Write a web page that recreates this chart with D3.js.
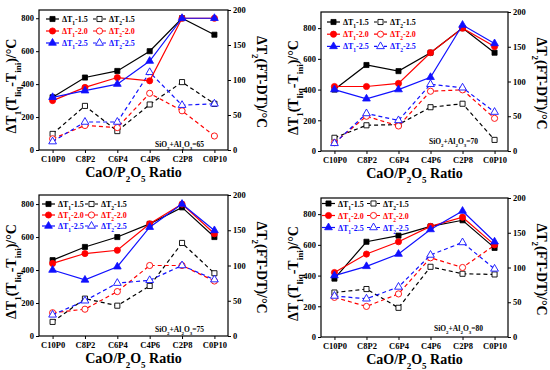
<!DOCTYPE html>
<html lang="en">
<head>
    <meta charset="UTF-8">
    <title>CaO/P2O5 ratio</title>
    <script src="https://d3js.org/d3.v7.min.js" charset="utf-8"></script>
    <style>
        body { margin: 0; background: #fff; }
        svg text { font-family: 'Liberation Serif', 'Times New Roman', serif; font-weight: bold; }
    </style>
</head>
<body>
    <div id="chart"></div>
    <script>
        // categories on x
        const ratios = ["C10P0", "C8P2", "C6P4", "C4P6", "C2P8", "C0P10"];
        const basicity = ["1.5", "2.0", "2.5"];
        const colors = ["#000000", "#ff0000", "#1010ff"];
        const panelLabels = ["65", "70", "75", "80"];

        // left axis values (dT1), rows = basicity 1.5, 2.0, 2.5
        const dT1_65 = [[320, 440, 480, 600, 800, 700], [300, 380, 440, 420, 800, 800], [320, 360, 400, 540, 800, 800]];
        const dT1_70 = [[400, 560, 520, 640, 800, 640], [420, 420, 440, 640, 800, 680], [400, 340, 400, 480, 820, 700]];
        const dT1_75 = [[460, 540, 600, 680, 780, 600], [440, 500, 520, 680, 800, 620], [400, 340, 420, 660, 800, 640]];
        const dT1_80 = [[380, 620, 660, 720, 760, 580], [420, 540, 620, 720, 780, 600], [400, 460, 540, 700, 820, 620]];

        // right axis values (dT2)
        const dT2_65 = [[23, 63, 27, 65, 97, 66], [16, 35, 32, 81, 56, 20], [12, 40, 40, 111, 64, 66]];
        const dT2_70 = [[19, 37, 38, 63, 68, 16], [12, 50, 36, 86, 88, 47], [11, 54, 44, 96, 91, 56]];
        const dT2_75 = [[20, 53, 43, 71, 132, 89], [33, 38, 63, 100, 100, 78], [30, 50, 75, 79, 100, 80]];
        const dT2_80 = [[64, 69, 42, 101, 91, 90], [57, 44, 62, 114, 100, 132], [59, 55, 72, 118, 136, 98]];

        const leftTicks = [0, 200, 400, 600, 800];
        const rightTicks = [0, 50, 100, 150, 200];

        const svg = d3.select("#chart").append("svg")
            .attr("width", 550)
            .attr("height", 370);

        // panel frames
        const panels = [
            {x0: 0,   y0: 0,   left: 39,  right: 228, top: 10,  bottom: 150, ymax: 850, t1: dT1_65, t2: dT2_65,
             leg: {x: 46, y: 19, dy: 12, col: 47}, ann: {x: 204, y: 147}},
            {x0: 275, y0: 0,   left: 46,  right: 233, top: 12,  bottom: 151, ymax: 905, t1: dT1_70, t2: dT2_70,
             leg: {x: 52, y: 22, dy: 12.2, col: 47}, ann: {x: 203, y: 144}},
            {x0: 0,   y0: 185, left: 39,  right: 228, top: 10,  bottom: 151, ymax: 855, t1: dT1_75, t2: dT2_75,
             leg: {x: 42, y: 19, dy: 11, col: 43}, ann: {x: 204, y: 147}},
            {x0: 275, y0: 185, left: 46,  right: 233, top: 13,  bottom: 152, ymax: 905, t1: dT1_80, t2: dT2_80,
             leg: {x: 47, y: 18.5, dy: 12, col: 45}, ann: {x: 208, y: 146}}
        ];

        // symbol for each basicity
        const symbols = [d3.symbolSquare, d3.symbolCircle, d3.symbolTriangle];
        const symSize = [26, 30, 26];

        function marker(g, i, cx, cy, filled) {
            g.append("path")
                .attr("d", d3.symbol().type(symbols[i]).size(symSize[i])())
                .attr("transform", "translate(" + cx + "," + cy + ")")
                .attr("fill", filled ? colors[i] : "#fff")
                .attr("stroke", colors[i])
                .attr("stroke-width", filled ? 0.8 : 0.9);
        }

        // text with subscripts: parts = [[text, isSub], ...]
        function richText(t, parts, subSize) {
            parts.forEach(p => {
                const ts = t.append("tspan").text(p[0]);
                if (p[1]) ts.attr("baseline-shift", "sub").attr("font-size", subSize);
            });
            return t;
        }

        panels.forEach((p, k) => {
            const g = svg.append("g").attr("transform", "translate(" + p.x0 + "," + p.y0 + ")");

            const x = d3.scalePoint().domain(ratios).range([p.left, p.right]).padding(0.42);
            const yL = d3.scaleLinear().domain([0, p.ymax]).range([p.bottom, p.top]);
            const yR = d3.scaleLinear().domain([0, 200]).range([p.bottom, p.top]);

            // axes
            g.append("g").attr("transform", "translate(" + p.left + ",0)")
                .call(d3.axisLeft(yL).tickValues(leftTicks).tickSize(3).tickPadding(2))
                .call(a => a.selectAll("text").attr("font-size", 8.5).attr("fill", "#000"));
            g.append("g").attr("transform", "translate(" + p.right + ",0)")
                .call(d3.axisRight(yR).tickValues(rightTicks).tickSize(3).tickPadding(2))
                .call(a => a.selectAll("text").attr("font-size", 8.5).attr("fill", "#000"));
            g.append("g").attr("transform", "translate(0," + p.bottom + ")")
                .call(d3.axisBottom(x).tickSize(3).tickPadding(3))
                .call(a => a.selectAll("text").attr("font-size", 8.5).attr("fill", "#000"));
            g.selectAll(".domain").remove();
            g.selectAll(".tick line").attr("stroke", "#000").attr("stroke-width", 1);

            g.append("rect")
                .attr("x", p.left).attr("y", p.top)
                .attr("width", p.right - p.left).attr("height", p.bottom - p.top)
                .attr("fill", "none").attr("stroke", "#000").attr("stroke-width", 1.2);

            // dT2 dashed series (right axis)
            p.t2.forEach((vals, i) => {
                const line = d3.line().x((d, j) => x(ratios[j])).y(d => yR(d));
                g.append("path").datum(vals)
                    .attr("d", line)
                    .attr("fill", "none").attr("stroke", colors[i])
                    .attr("stroke-width", 1.2).attr("stroke-dasharray", "4,3");
                vals.forEach((v, j) => marker(g, i, x(ratios[j]), yR(v), false));
            });

            // dT1 solid series (left axis)
            p.t1.forEach((vals, i) => {
                const line = d3.line().x((d, j) => x(ratios[j])).y(d => yL(d));
                g.append("path").datum(vals)
                    .attr("d", line)
                    .attr("fill", "none").attr("stroke", colors[i])
                    .attr("stroke-width", 1.2);
                vals.forEach((v, j) => marker(g, i, x(ratios[j]), yL(v), true));
            });

            // legend
            const L = p.leg;
            basicity.forEach((b, i) => {
                const ly = L.y + i * L.dy;
                [0, 1].forEach(c => {
                    const lx = L.x + c * L.col;
                    g.append("line")
                        .attr("x1", lx).attr("x2", lx + 13).attr("y1", ly).attr("y2", ly)
                        .attr("stroke", colors[i]).attr("stroke-width", 1.2)
                        .attr("stroke-dasharray", c ? "3,2" : null);
                    marker(g, i, lx + 6.5, ly, c === 0);
                    const t = g.append("text").attr("x", lx + 16).attr("y", ly + 3)
                        .attr("font-size", 8).attr("fill", colors[i]);
                    richText(t, [["\u0394T", false], [c ? "2" : "1", true], ["-" + b, false]], 5.5);
                });
            });

            // composition note
            const ann = g.append("text").attr("x", p.ann.x).attr("y", p.ann.y)
                .attr("text-anchor", "end").attr("font-size", 7.5);
            richText(ann, [["SiO", false], ["2", true], ["+Al", false], ["2", true], ["O", false], ["3", true], ["=" + panelLabels[k], false]], 5);

            // axis titles
            const xt = g.append("text").attr("x", (p.left + p.right) / 2).attr("y", p.bottom + 27)
                .attr("text-anchor", "middle").attr("font-size", 14);
            richText(xt, [["CaO/P", false], ["2", true], ["O", false], ["5", true], [" Ratio", false]], 9);

            const cyL = (p.top + p.bottom) / 2 + 6;
            const ytL = g.append("text")
                .attr("transform", "translate(" + (p.left - 23) + "," + cyL + ") rotate(-90)")
                .attr("text-anchor", "middle").attr("font-size", 14);
            richText(ytL, [["\u0394T", false], ["1", true], ["(T", false], ["liq", true], ["-T", false], ["ini", true], [")/\u00b0C", false]], 9);

            const cyR = (p.top + p.bottom) / 2 + 2;
            const ytR = g.append("text")
                .attr("transform", "translate(" + (p.right + 29) + "," + cyR + ") rotate(90)")
                .attr("text-anchor", "middle").attr("font-size", 14);
            richText(ytR, [["\u0394T", false], ["2", true], ["(FT-DT)/\u00b0C", false]], 9);
        });
    </script>
</body>
</html>
